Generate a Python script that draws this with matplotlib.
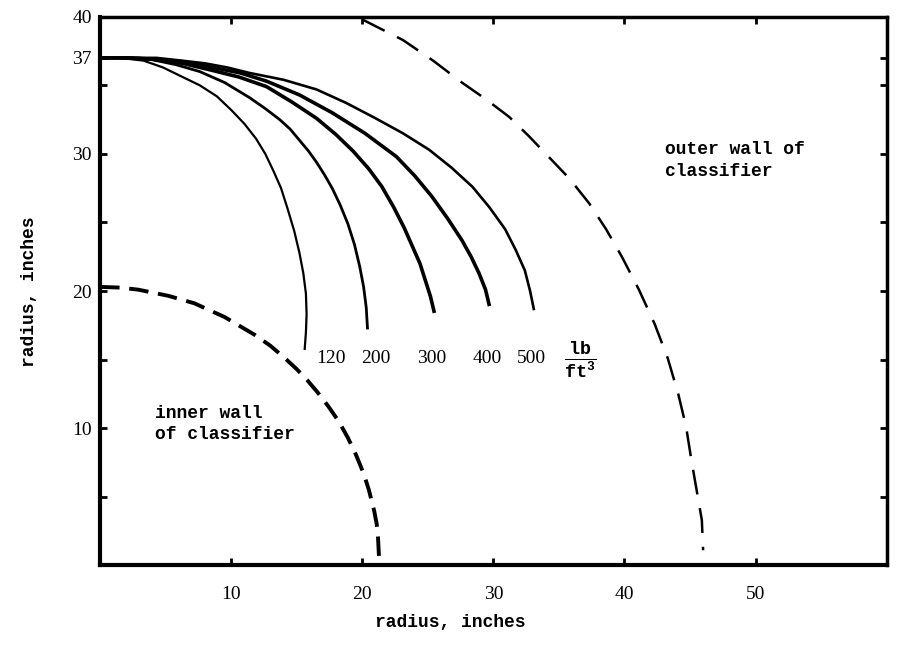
import matplotlib
matplotlib.use("Agg")
import matplotlib.pyplot as plt

plt.rcParams['lines.scale_dashes'] = False
plt.rcParams['mathtext.fontset'] = 'custom'
plt.rcParams['mathtext.rm'] = 'Liberation Mono:bold'

# curves of constant bulk density (lb/ft^3)
x120 = [0, 1.5, 3.3, 4.8, 6.3, 7.6, 8.9, 10.0, 11.0, 11.9, 12.6, 13.2, 13.8, 14.3, 14.8, 15.2, 15.5, 15.7, 15.75, 15.7, 15.6]
y120 = [37, 37.0, 36.8, 36.3, 35.6, 35.0, 34.2, 33.2, 32.2, 31.1, 30.0, 28.8, 27.5, 26.0, 24.4, 22.8, 21.3, 19.8, 18.3, 17.0, 15.7]
x200 = [0, 2.0, 3.8, 5.8, 7.6, 9.5, 11.4, 12.6, 13.7, 14.5, 15.2, 15.9, 16.5, 17.1, 17.7, 18.3, 18.9, 19.4, 19.8, 20.1, 20.3, 20.4]
y200 = [37, 37.0, 36.9, 36.5, 36.0, 35.2, 34.1, 33.3, 32.5, 31.8, 31.0, 30.2, 29.4, 28.5, 27.5, 26.3, 24.9, 23.4, 21.8, 20.3, 18.8, 17.2]
x300 = [0, 2.0, 4.0, 6.3, 8.5, 10.6, 12.7, 14.6, 16.5, 18.0, 19.3, 20.5, 21.5, 22.4, 23.2, 23.8, 24.4, 24.8, 25.2, 25.5]
y300 = [37, 37.0, 36.9, 36.6, 36.1, 35.6, 34.9, 33.8, 32.6, 31.4, 30.2, 28.9, 27.6, 26.1, 24.6, 23.3, 22.0, 20.8, 19.6, 18.4]
x400 = [0, 2.1, 4.2, 6.4, 8.6, 10.7, 12.7, 15.2, 17.7, 20.2, 22.6, 24.0, 25.3, 26.5, 27.6, 28.3, 28.9, 29.4, 29.7]
y400 = [37, 37.0, 36.9, 36.7, 36.3, 35.9, 35.3, 34.3, 33.0, 31.5, 29.8, 28.4, 26.9, 25.3, 23.7, 22.5, 21.3, 20.1, 18.9]
x500 = [0, 2.1, 4.3, 6.2, 8.0, 9.7, 11.4, 14.0, 16.5, 18.8, 21.0, 23.1, 25.1, 26.8, 28.4, 29.7, 30.9, 31.7, 32.4, 32.8, 33.1]
y500 = [37, 37.0, 37.0, 36.8, 36.6, 36.3, 35.9, 35.4, 34.7, 33.7, 32.6, 31.5, 30.3, 29.0, 27.6, 26.1, 24.5, 23.0, 21.5, 20.0, 18.6]
densities = ['120', '200', '300', '400', '500']
widths = [1.6, 2.0, 2.6, 2.6, 1.9]

# walls of the classifier
x_inner = [0, 1.5, 2.9, 5.2, 7.2, 9.5, 11.8, 13.0, 14.1, 15.0, 15.8, 16.6, 17.4, 18.2, 18.9, 19.5, 20.1, 20.5, 20.9, 21.1, 21.2, 21.3]
y_inner = [20.3, 20.25, 20.1, 19.65, 19.1, 18.1, 16.8, 16.0, 15.1, 14.3, 13.5, 12.6, 11.6, 10.5, 9.3, 8.1, 6.7, 5.5, 4.0, 3.0, 2.0, 0.1]
x_outer = [20.0, 23.1, 25.4, 27.6, 29.4, 31.2, 32.7, 34.2, 35.8, 37.3, 38.6, 39.8, 41.1, 42.3, 43.3, 44.1, 44.7, 45.1, 45.5, 45.9, 46.0]
y_outer = [39.8, 38.3, 36.8, 35.2, 34.0, 32.7, 31.3, 29.8, 28.2, 26.4, 24.5, 22.5, 20.1, 17.6, 15.1, 12.5, 10.1, 7.7, 5.5, 3.3, 1.1]

# label positions under curve ends
label_x = [17.6, 21.0, 25.3, 29.5, 32.9]
label_y = 15.1

fig = plt.figure(figsize=(9.02, 6.69), dpi=100)
ax = fig.add_axes([0.111, 0.155, 0.872, 0.82])

curves = [(x120, y120), (x200, y200), (x300, y300), (x400, y400), (x500, y500)]
for (xs, ys), lw in zip(curves, widths):
    ax.plot(xs, ys, color='black', lw=lw, solid_capstyle='butt', solid_joinstyle='round')

ax.plot(x_inner, y_inner, color='black', lw=2.8, linestyle=(0, (14, 7)))
ax.plot(x_outer, y_outer, color='black', lw=1.8, linestyle=(0, (18, 10)))

serif = 'Liberation Serif'
mono = 'Liberation Mono'
for lab, lx in zip(densities, label_x):
    ax.text(lx, label_y, lab, family=serif, fontsize=14, ha='center', va='center')
ax.text(36.6, 15.0, r'$\frac{\rm lb}{\rm ft^3}$', fontsize=19, ha='center', va='center')

ax.text(43.1, 29.5, 'outer wall of\nclassifier', family=mono, fontweight='bold',
        fontsize=13, ha='left', va='center', linespacing=1.35)
ax.text(4.2, 10.3, 'inner wall\nof classifier', family=mono, fontweight='bold',
        fontsize=13, ha='left', va='center', linespacing=1.3)

ax.set_xlim(0, 60)
ax.set_ylim(0, 40)
ax.set_xticks([10, 20, 30, 40, 50])
ax.set_xticklabels(['10', '20', '30', '40', '50'], family=serif, fontsize=14)
ax.set_yticks([5, 10, 15, 20, 25, 30, 35, 37, 40])
ax.set_yticklabels(['', '10', '', '20', '', '30', '', '37', '40'], family=serif, fontsize=14)
ax.tick_params(direction='in', length=5, width=2, top=True, right=True)
ax.tick_params(axis='x', pad=15)
ax.tick_params(axis='y', pad=6)

for side in ['left', 'bottom']:
    ax.spines[side].set_linewidth(3)
for side in ['top', 'right']:
    ax.spines[side].set_linewidth(2.5)

ax.set_xlabel('radius, inches', family=mono, fontweight='bold', fontsize=13)
ax.set_ylabel('radius, inches', family=mono, fontweight='bold', fontsize=13)
ax.xaxis.set_label_coords(0.445, -0.089)
ax.yaxis.set_label_coords(-0.079, 0.498)

fig.savefig('out.png', dpi=100)
